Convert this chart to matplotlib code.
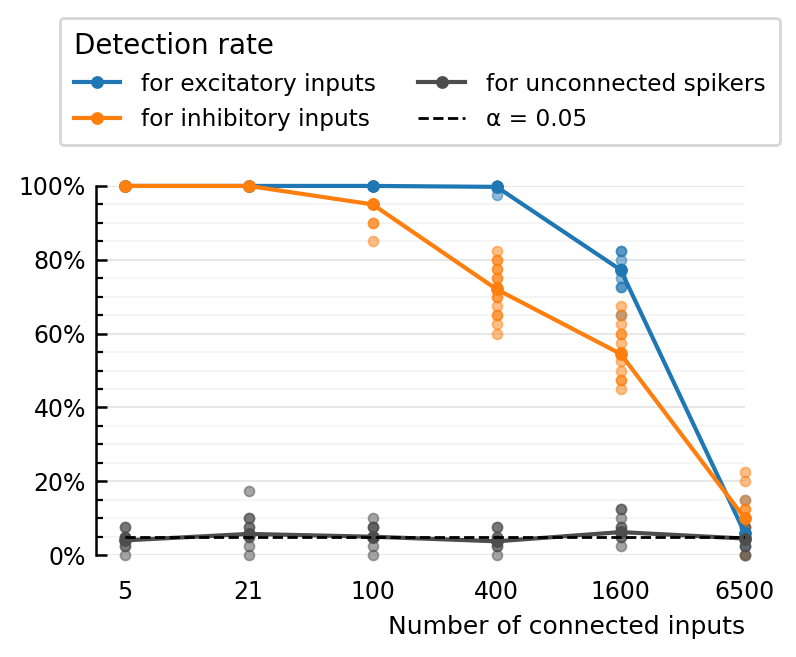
import matplotlib
matplotlib.use("Agg")
import matplotlib.pyplot as plt
from matplotlib.ticker import PercentFormatter, MultipleLocator
from matplotlib.lines import Line2D

# number of connected inputs (categorical x positions)
n_inputs = ["5", "21", "100", "400", "1600", "6500"]

# individual detection rates per run
exc_points = [
    [1.0] * 8,
    [1.0] * 8,
    [1.0] * 8,
    [1.0] * 9 + [0.975],
    [0.825, 0.825, 0.80, 0.775, 0.775, 0.775, 0.75, 0.725, 0.725, 0.65],
    [0.15, 0.10, 0.075, 0.05, 0.025, 0.0, 0.05, 0.0],
]
inh_points = [
    [1.0] * 8,
    [1.0] * 8,
    [1.0, 1.0, 1.0, 1.0, 0.95, 0.95, 0.95, 0.90, 0.90, 0.85],
    [0.825, 0.80, 0.80, 0.775, 0.775, 0.75, 0.75, 0.725, 0.725, 0.70, 0.70,
     0.675, 0.65, 0.65, 0.625, 0.60],
    [0.675, 0.65, 0.625, 0.60, 0.60, 0.575, 0.55, 0.55, 0.525, 0.50, 0.475,
     0.475, 0.45],
    [0.225, 0.20, 0.15, 0.125, 0.125, 0.10, 0.10, 0.075, 0.05, 0.0],
]
unc_points = [
    [0.075, 0.05, 0.05, 0.025, 0.025, 0.0, 0.075, 0.05],
    [0.175, 0.10, 0.075, 0.05, 0.05, 0.025, 0.0, 0.10, 0.075],
    [0.10, 0.075, 0.075, 0.05, 0.05, 0.025, 0.0, 0.075],
    [0.075, 0.05, 0.025, 0.0, 0.05, 0.025, 0.075],
    [0.125, 0.10, 0.075, 0.075, 0.05, 0.025, 0.125, 0.05],
    [0.10, 0.075, 0.05, 0.05, 0.025, 0.0, 0.025],
]

# mean detection rates
exc_mean = [1.0, 1.0, 1.0, 0.9975, 0.7725, 0.06]
inh_mean = [1.0, 1.0, 0.95, 0.72, 0.545, 0.10]
unc_mean = [0.04, 0.0575, 0.05, 0.0375, 0.0625, 0.045]
alpha_level = 0.05

C_EXC = "#1f77b4"
C_INH = "#ff7f0e"
C_UNC = "#4d4d4d"

plt.rcParams["font.family"] = ["DejaVu Sans"]
plt.rcParams["font.size"] = 8.4

fig = plt.figure(figsize=(3.98, 3.285), dpi=200)
ax = fig.add_axes([0.1206, 0.155, 0.815, 0.562])

x = list(range(len(n_inputs)))

for pts, col in [(exc_points, C_EXC), (inh_points, C_INH), (unc_points, C_UNC)]:
    for i, vals in enumerate(pts):
        ax.scatter([x[i]] * len(vals), vals, s=13, color=col, alpha=0.5,
                   linewidths=0.6, zorder=2, clip_on=False)

lw = 1.5
ms = 3.6
ax.plot(x, exc_mean, "-o", color=C_EXC, lw=lw, ms=ms, zorder=3, clip_on=False)
ax.plot(x, inh_mean, "-o", color=C_INH, lw=lw, ms=ms, zorder=3, clip_on=False)
ax.plot(x, unc_mean, "-o", color=C_UNC, lw=lw, ms=ms, zorder=3, clip_on=False)
ax.plot(x, [alpha_level] * len(x), "--", color="black", lw=1.0, zorder=4)

ax.set_xlim(-0.23, 4.99)
ax.set_ylim(0, 1)
ax.set_xticks(x)
ax.set_xticklabels(n_inputs, fontsize=8.5)
ax.tick_params(axis="x", length=0, pad=9)
ax.yaxis.set_major_formatter(PercentFormatter(1.0, decimals=0))
ax.yaxis.set_major_locator(MultipleLocator(0.2))
ax.yaxis.set_minor_locator(MultipleLocator(0.05))
ax.tick_params(axis="y", which="major", direction="in", length=4, width=0.9,
               pad=3.6, labelsize=8.5)
ax.tick_params(axis="y", which="minor", direction="in", length=2.5, width=0.8)
ax.grid(axis="y", which="major", color="#e3e3e3", lw=0.6, zorder=0)
ax.grid(axis="y", which="minor", color="#f3f3f3", lw=0.6, zorder=0)
ax.set_axisbelow(True)
for side in ["top", "right", "bottom"]:
    ax.spines[side].set_visible(False)
ax.spines["left"].set_linewidth(0.9)

ax.set_xlabel("Number of connected inputs", loc="right", fontsize=9)

handles = [
    Line2D([], [], color=C_EXC, marker="o", lw=lw, ms=ms),
    Line2D([], [], color=C_INH, marker="o", lw=lw, ms=ms),
    Line2D([], [], color=C_UNC, marker="o", lw=lw, ms=ms),
    Line2D([], [], color="black", ls="--", lw=1.0),
]
labels = ["for excitatory inputs", "for inhibitory inputs",
          "for unconnected spikers", "α = 0.05"]
leg = fig.legend(handles, labels, title="Detection rate", ncol=2,
                 loc="upper left", bbox_to_anchor=(0.075, 0.973),
                 title_fontsize=10, alignment="left", columnspacing=1.8,
                 handletextpad=0.9, borderpad=0.6, labelspacing=0.55,
                 frameon=True, borderaxespad=0)
leg.get_frame().set_edgecolor("#cccccc")

fig.savefig("out.png", dpi=200)
